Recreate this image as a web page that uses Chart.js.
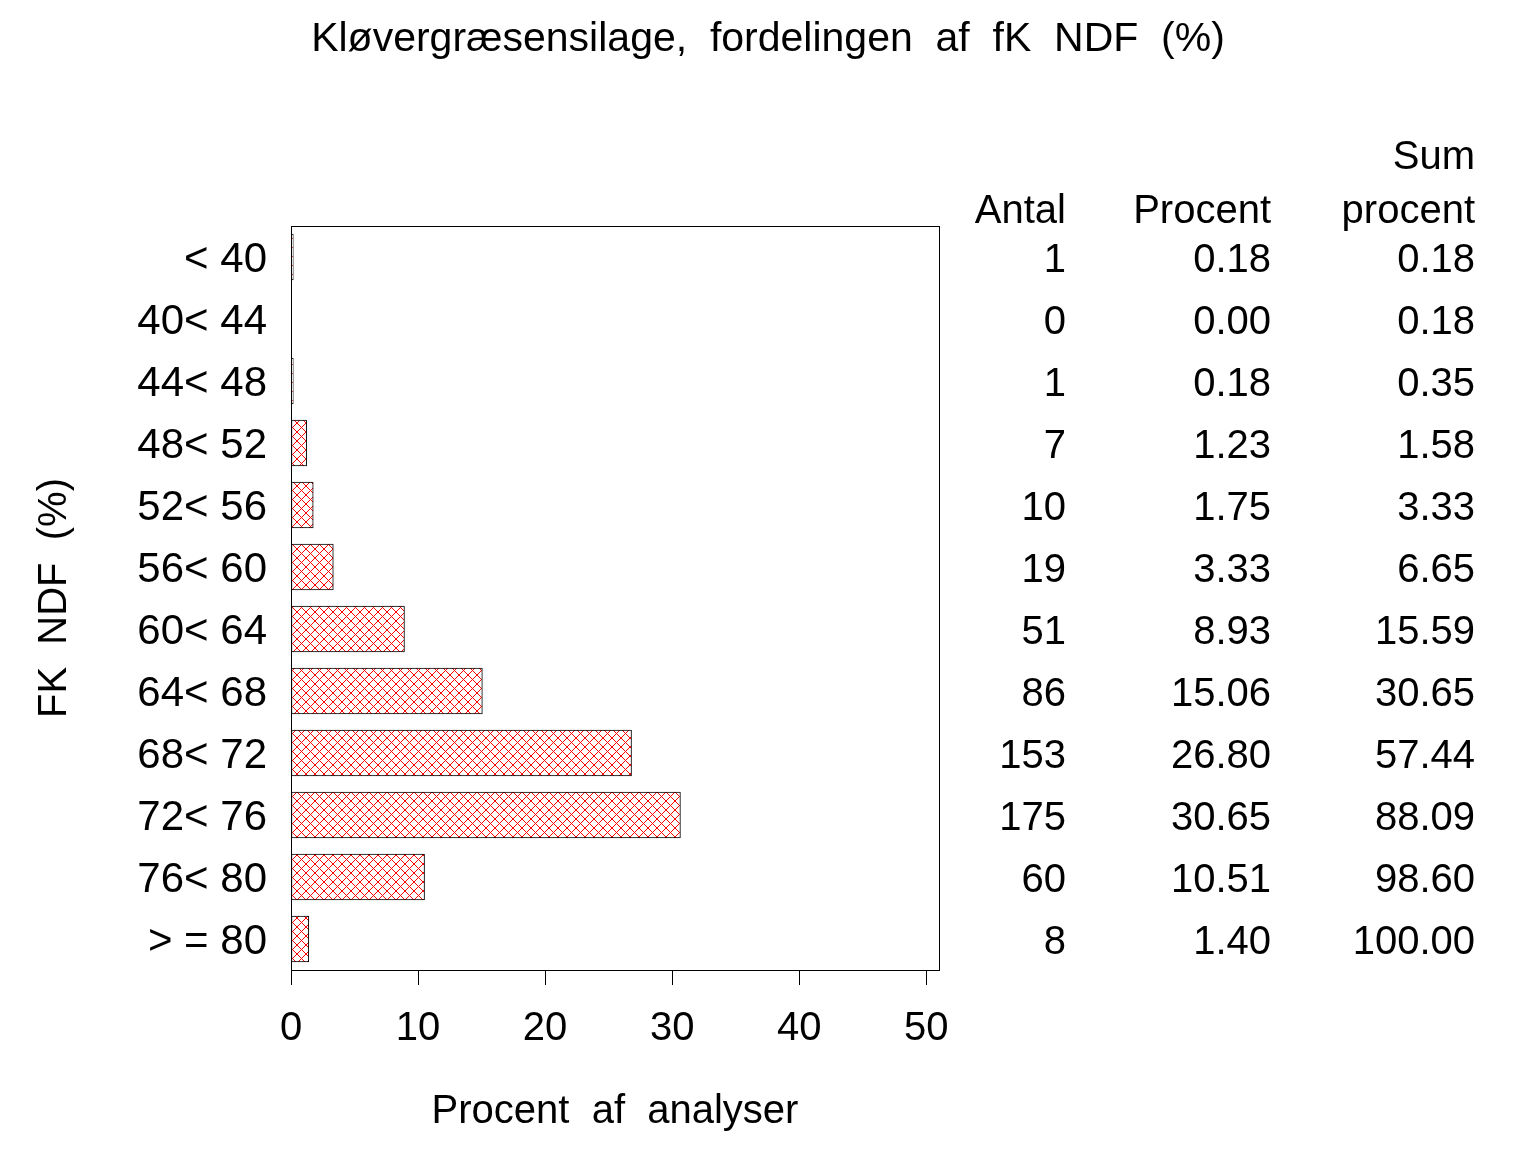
<!DOCTYPE html>
<html>
<head>
<meta charset="utf-8">
<script src="https://cdn.jsdelivr.net/npm/chart.js@4/dist/chart.umd.min.js"></script>
<style>
  body { margin: 0; background: #fff; }
  #wrap { width: 1536px; height: 1152px; }
</style>
</head>
<body>
<div id="wrap"><canvas id="ndfChart"></canvas></div>
<script>
// Data
const klasser = ['< 40', '40< 44', '44< 48', '48< 52', '52< 56', '56< 60', '60< 64', '64< 68', '68< 72', '72< 76', '76< 80', '> = 80'];
const antal = [1, 0, 1, 7, 10, 19, 51, 86, 153, 175, 60, 8];
const procent = [0.18, 0.00, 0.18, 1.23, 1.75, 3.33, 8.93, 15.06, 26.80, 30.65, 10.51, 1.40];
const sumProcent = [0.18, 0.18, 0.35, 1.58, 3.33, 6.65, 15.59, 30.65, 57.44, 88.09, 98.60, 100.00];
const xTicks = [0, 10, 20, 30, 40, 50];
const titel = 'Kløvergræsensilage,  fordelingen  af  fK  NDF  (%)';

const FONT = '"Liberation Sans", Arial, sans-serif';

// red cross-hatch fill, drawn pixel by pixel so it stays crisp
function hatch() {
    const c = document.createElement('canvas');
    c.width = 9; c.height = 9;
    const g = c.getContext('2d');
    g.fillStyle = '#fff';
    g.fillRect(0, 0, 9, 9);
    g.fillStyle = '#ff0000';
    for (let i = 0; i < 9; i++) {
        g.fillRect(i, i, 1, 1);
        g.fillRect(8 - i, i, 1, 1);
    }
    return g.createPattern(c, 'repeat');
}

// title, frame round the plot + table on the right
const tablePlugin = {
    id: 'tabel',
    afterDraw(chart) {
        const ctx = chart.ctx;
        const a = chart.chartArea;
        const y = chart.scales.y;
        ctx.save();
        ctx.strokeStyle = '#000';
        ctx.lineWidth = 1;
        ctx.strokeRect(a.left + 0.5, a.top + 0.5, a.right - a.left, a.bottom - a.top);

        ctx.fillStyle = '#000';
        ctx.textBaseline = 'middle';
        ctx.textAlign = 'center';
        ctx.font = '41px ' + FONT;
        ctx.fillText(titel, chart.width / 2, 40);

        ctx.font = '40px ' + FONT;
        ctx.textAlign = 'right';
        const cols = [1066, 1271, 1475];
        ctx.fillText('Antal', cols[0], a.top - 14);
        ctx.fillText('Procent', cols[1], a.top - 14);
        ctx.fillText('Sum', cols[2], a.top - 68);
        ctx.fillText('procent', cols[2], a.top - 14);
        klasser.forEach((k, i) => {
            const py = y.getPixelForValue(i) + 4;
            ctx.fillText(String(antal[i]), cols[0], py);
            ctx.fillText(procent[i].toFixed(2), cols[1], py);
            ctx.fillText(sumProcent[i].toFixed(2), cols[2], py);
        });
        ctx.restore();
    }
};

const ctx = document.getElementById('ndfChart').getContext('2d');
new Chart(ctx, {
    type: 'bar',
    data: {
        labels: klasser,
        datasets: [{
            data: procent,
            backgroundColor: hatch(),
            borderColor: '#000',
            borderWidth: 1,
            borderSkipped: false,
            barThickness: 46
        }]
    },
    plugins: [tablePlugin],
    options: {
        indexAxis: 'y',
        responsive: true,
        maintainAspectRatio: false,
        animation: false,
        layout: { padding: { left: 0, right: 597, top: 226, bottom: 0 } },
        plugins: {
            legend: { display: false },
            tooltip: { enabled: false },
            title: { display: false }
        },
        scales: {
            x: {
                min: 0,
                max: 51,
                afterBuildTicks(scale) {
                    scale.ticks = xTicks.map(v => ({ value: v }));
                },
                afterFit(scale) { scale.height = 182; },
                grid: { drawOnChartArea: false, drawTicks: true, tickLength: 15, color: '#000' },
                border: { display: true, color: '#000' },
                ticks: {
                    color: '#000',
                    padding: 20,
                    maxRotation: 0,
                    font: { family: FONT, size: 40 }
                },
                title: {
                    display: true,
                    text: 'Procent  af  analyser',
                    color: '#000',
                    font: { family: FONT, size: 40 },
                    padding: { top: 0, bottom: 16 }
                }
            },
            y: {
                afterFit(scale) { scale.width = 291; },
                grid: { display: false },
                border: { display: true, color: '#000' },
                ticks: {
                    color: '#000',
                    padding: 16,
                    labelOffset: 3,
                    font: { family: FONT, size: 42 }
                },
                title: {
                    display: true,
                    text: 'FK  NDF  (%)',
                    color: '#000',
                    font: { family: FONT, size: 40 },
                    padding: { top: 31, bottom: 0 }
                }
            }
        }
    }
});
</script>
</body>
</html>
